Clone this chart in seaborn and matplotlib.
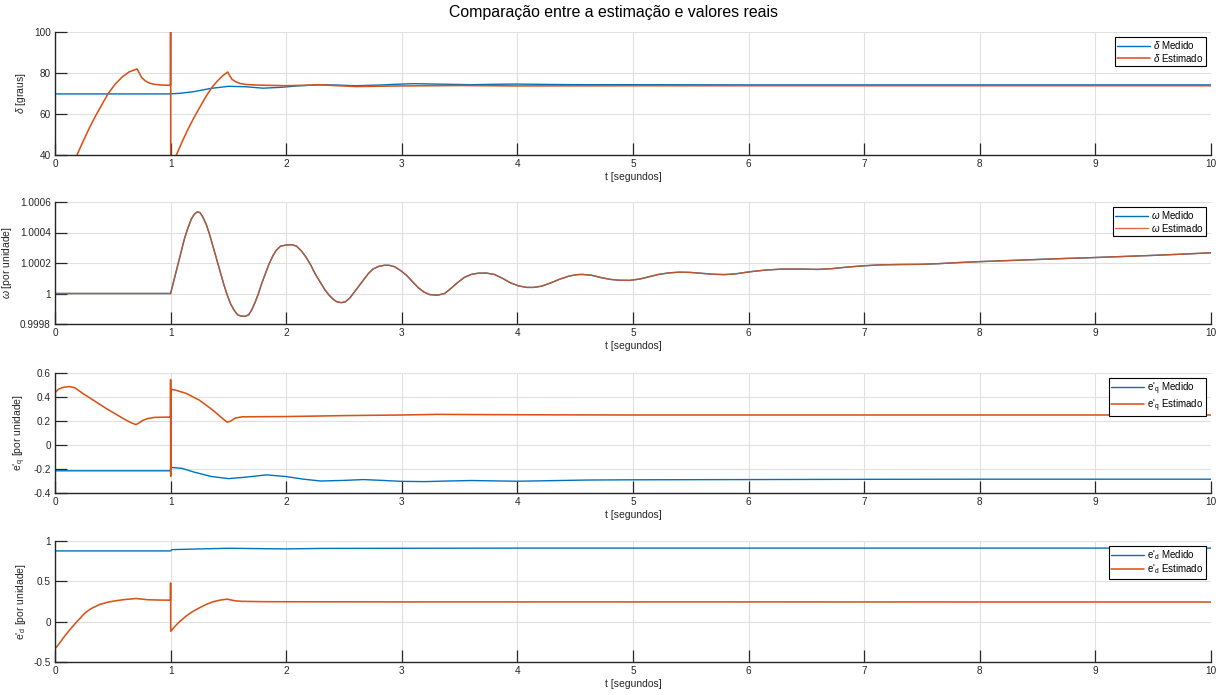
import matplotlib
matplotlib.use("Agg")
import matplotlib.pyplot as plt
import seaborn as sns
import pandas as pd

# ---------------- data ----------------
# delta [graus]
delta_med_t = [0, 1.0, 1.1, 1.2, 1.35, 1.5, 1.65, 1.8, 1.95, 2.1, 2.29, 2.45, 2.6, 2.8, 2.95, 3.1, 3.3, 3.6, 3.8, 4.0,
               4.3, 4.6, 5.0, 6.0, 7.0, 8.0, 10.0]
delta_med = [69.8, 69.8, 70.2, 70.9, 72.5, 73.5, 73.3, 72.6, 73.0, 73.7, 74.3, 74.1, 73.8, 74.1, 74.5, 74.8, 74.6, 74.3,
             74.5, 74.6, 74.4, 74.3, 74.3, 74.2, 74.2, 74.2, 74.2]
delta_est_t = [0, 0.002, 0.19, 0.25, 0.3, 0.35, 0.4, 0.46, 0.52, 0.58, 0.64, 0.71, 0.73, 0.75, 0.78, 0.82, 0.87, 0.93,
               0.999, 1.0, 1.001,
               1.05, 1.1, 1.15, 1.2, 1.25, 1.3, 1.355, 1.4, 1.45, 1.494, 1.51, 1.53, 1.56, 1.6, 1.65, 1.75, 2.0, 2.3,
               2.6, 3.0, 3.5, 4.0, 5.0, 7.0, 10.0]
delta_est = [79.0, 15.0, 40.0, 47.5, 53.5, 59.0, 64.0, 70.0, 74.5, 78.0, 80.5, 82.0, 79.8, 77.8, 76.2, 75.0, 74.4, 74.1,
             74.0, 115.0, 15.0,
             40.0, 46.5, 52.5, 58.0, 63.0, 68.0, 72.8, 75.8, 78.6, 80.5, 78.8, 77.0, 75.8, 74.9, 74.4, 74.1, 73.8, 74.2,
             73.4, 73.7, 73.9, 73.7, 73.8, 73.8, 73.8]

# omega [por unidade] (medido and estimado coincide)
omega_t = [0, 1.0, 1.03, 1.06, 1.09, 1.12, 1.15, 1.18, 1.205, 1.231, 1.255, 1.28, 1.31, 1.34, 1.37, 1.40, 1.43, 1.46,
           1.49, 1.52, 1.55, 1.58, 1.61, 1.644, 1.675, 1.70, 1.73, 1.76, 1.79, 1.82, 1.85, 1.88, 1.91, 1.95, 2.00,
           2.05, 2.09, 2.13, 2.17, 2.21, 2.25, 2.29, 2.33, 2.37, 2.41, 2.44, 2.476, 2.51, 2.55, 2.59, 2.63, 2.67, 2.71,
           2.75, 2.80, 2.85, 2.89, 2.94, 2.99, 3.04, 3.09, 3.14, 3.19, 3.24, 3.31, 3.37, 3.42, 3.48, 3.54, 3.60, 3.66,
           3.73, 3.80, 3.87, 3.94, 4.01, 4.08, 4.14, 4.21, 4.29, 4.37, 4.45, 4.52, 4.565, 4.64, 4.72, 4.80, 4.88, 4.97,
           5.06, 5.14, 5.22, 5.31, 5.40, 5.50, 5.60, 5.70, 5.79, 5.88, 5.96, 6.05, 6.15, 6.29, 6.45, 6.6, 6.72, 6.85,
           7.0, 7.15, 7.3, 7.48, 7.65, 7.82, 8.0, 8.25, 8.53, 8.75, 9.0, 9.25, 9.5, 9.75, 10.0]
omega = [1.0, 1.0, 1.00009, 1.00018, 1.00027, 1.00036, 1.00043, 1.00049, 1.00052, 1.000535, 1.00053, 1.00050, 1.00045,
         1.00038, 1.00030, 1.00022, 1.00014, 1.00006, 0.99999, 0.99993, 0.99989, 0.99986, 0.999852, 0.99985, 0.99986,
         0.99989, 0.99994, 1.00000, 1.00007, 1.00013, 1.00019, 1.00024, 1.00028, 1.00031, 1.000318,
         1.00032, 1.00031, 1.00028, 1.00024, 1.00019, 1.00013, 1.00008, 1.00003, 0.99999, 0.99996, 0.999945, 0.99994,
         0.999945, 0.99997, 1.00001, 1.00005, 1.00009, 1.00013, 1.00016, 1.000178, 1.000185, 1.000185, 1.000175,
         1.00015, 1.00012, 1.00008, 1.00004, 1.00001, 0.999993, 0.999989, 1.0, 1.00003, 1.00007, 1.000105, 1.000125,
         1.000133, 1.000134, 1.000125, 1.0001, 1.00007, 1.00005, 1.00004, 1.00004, 1.000048, 1.00007, 1.000095,
         1.000115, 1.000124, 1.000125, 1.00012, 1.000105, 1.000093, 1.000087, 1.000086, 1.000095, 1.00011, 1.000125,
         1.000135, 1.00014, 1.000138, 1.000132, 1.000126, 1.000124, 1.000128, 1.000137, 1.000146, 1.000154, 1.00016,
         1.00016, 1.000158, 1.000163, 1.000173, 1.000182, 1.000188, 1.00019, 1.000191, 1.000196, 1.000203, 1.000209,
         1.000216, 1.000224, 1.00023, 1.000236, 1.000243, 1.00025, 1.000258, 1.000267]

# e'q [por unidade]
eq_med_t = [0, 0.999, 1.0, 1.1, 1.2, 1.35, 1.5, 1.65, 1.83, 2.0, 2.15, 2.3, 2.5, 2.67, 2.85, 3.0, 3.2, 3.4, 3.6, 3.8,
            4.0, 4.3, 4.6, 5.0, 6.0, 7.0, 8.0, 10.0]
eq_med = [-0.215, -0.215, -0.186, -0.195, -0.225, -0.262, -0.28, -0.268, -0.249, -0.263, -0.285, -0.30, -0.295, -0.288,
          -0.296, -0.303, -0.305, -0.30, -0.296, -0.299, -0.302, -0.297, -0.292, -0.29, -0.288, -0.286, -0.285, -0.285]
eq_est_t = [0, 0.001, 0.002, 0.003, 0.03, 0.07, 0.12, 0.17, 0.24, 0.3, 0.386, 0.45, 0.53, 0.6, 0.66, 0.7, 0.72, 0.76,
            0.8, 0.86, 0.999, 1.0, 1.001, 1.002, 1.05, 1.135, 1.25, 1.366, 1.45, 1.49, 1.52, 1.56, 1.62, 2.0, 2.5, 3.0,
            3.3, 4.0, 5.0, 7.0, 10.0]
eq_est = [0.13, 0.56, 0.14, 0.44, 0.465, 0.48, 0.487, 0.478, 0.43, 0.393, 0.34, 0.30, 0.255, 0.215, 0.185, 0.17, 0.18,
          0.205, 0.22, 0.23, 0.233, 0.545, -0.26, 0.465, 0.455, 0.43, 0.373, 0.29, 0.22, 0.19, 0.20, 0.225, 0.235,
          0.237, 0.245, 0.25, 0.255, 0.252, 0.25, 0.25, 0.25]

# e'd [por unidade]
ed_med_t = [0, 1.0, 1.01, 1.2, 1.5, 1.8, 2.0, 2.3, 3.0, 4.0, 6.0, 10.0]
ed_med = [0.877, 0.877, 0.893, 0.90, 0.91, 0.905, 0.902, 0.908, 0.91, 0.912, 0.912, 0.912]
ed_est_t = [0, 0.001, 0.01, 0.04, 0.07, 0.1, 0.14, 0.18, 0.21, 0.24, 0.27, 0.31, 0.386, 0.46, 0.53, 0.6, 0.7, 0.75,
            0.8, 0.9, 0.999, 1.0, 1.001, 1.03, 1.07, 1.135, 1.19, 1.25, 1.31, 1.366, 1.43, 1.49, 1.52, 1.56, 1.62, 1.8,
            2.0, 3.0, 4.0, 6.0, 8.0, 10.0]
ed_est = [0.88, -0.33, -0.32, -0.265, -0.205, -0.15, -0.08, -0.015, 0.03, 0.08, 0.12, 0.16, 0.213, 0.243, 0.26, 0.274,
          0.287, 0.28, 0.272, 0.268, 0.266, 0.48, -0.12, -0.07, -0.01, 0.07, 0.125, 0.172, 0.215, 0.246, 0.268, 0.279,
          0.27, 0.258, 0.252, 0.248, 0.247, 0.245, 0.245, 0.245, 0.244, 0.244]

x_ticks = list(range(0, 11))
y1_ticks = [40, 60, 80, 100]
y1_labels = ["40", "60", "80", "100"]
y2_ticks = [0.9998, 1.0, 1.0002, 1.0004, 1.0006]
y2_labels = ["0.9998", "1", "1.0002", "1.0004", "1.0006"]
y3_ticks = [-0.4, -0.2, 0, 0.2, 0.4, 0.6]
y3_labels = ["-0.4", "-0.2", "0", "0.2", "0.4", "0.6"]
y4_ticks = [-0.5, 0, 0.5, 1]
y4_labels = ["-0.5", "0", "0.5", "1"]

title = "Comparação entre a estimação e valores reais"
xlabel = "t [segundos]"

# ---------------- style ----------------
sns.set_theme(style="whitegrid")
plt.rcParams.update({
    "font.family": ["Liberation Sans", "DejaVu Sans"],
    "mathtext.fontset": "custom",
    "mathtext.rm": "Liberation Sans",
    "mathtext.it": "Liberation Sans:italic",
    "mathtext.bf": "Liberation Sans:bold",
    "axes.edgecolor": "#262626",
    "axes.facecolor": "white",
    "grid.color": "#e0e0e0",
    "grid.linewidth": 0.8,
})

BLUE = "#0072BD"
ORANGE = "#D95319"
DARK = "#262626"

fig = plt.figure(figsize=(12.27, 6.95), dpi=100)
W, H = 1227, 695
left = 55 / W
width = 1156 / W


def make_ax(top_px, bottom_px):
    return fig.add_axes([left, 1 - bottom_px / H, width, (bottom_px - top_px) / H])


ax1 = make_ax(32, 155)
ax2 = make_ax(202, 324)
ax3 = make_ax(373, 493)
ax4 = make_ax(541, 662)


def draw(ax, t_med, v_med, t_est, v_est, lab_med, lab_est, ylim, yticks, ylabels, ylabel, same=False):
    dm = pd.DataFrame({"t": t_med, "v": v_med})
    de = pd.DataFrame({"t": t_est, "v": v_est})
    sns.lineplot(data=dm, x="t", y="v", ax=ax, color=BLUE, lw=1.0, sort=False, estimator=None, label=lab_med)
    sns.lineplot(data=de, x="t", y="v", ax=ax, color=ORANGE, lw=1.0 if same else 1.15, sort=False, estimator=None,
                 label=lab_est, alpha=0.85 if same else 1.0)
    ax.set_xlim(0, 10)
    ax.set_ylim(*ylim)
    ax.set_xticks(x_ticks)
    ax.set_xticklabels([str(v) for v in x_ticks])
    ax.set_yticks(yticks)
    ax.set_yticklabels(ylabels)
    ax.set_xlabel(xlabel, fontsize=7.5, color=DARK, labelpad=2)
    ax.set_ylabel(ylabel, fontsize=7.5, color=DARK, labelpad=4)
    ax.tick_params(axis="both", direction="in", length=8.5, width=0.9, colors=DARK, labelsize=7.2,
                   top=False, right=False, left=True, bottom=True, pad=3)
    for s in ["top", "right"]:
        ax.spines[s].set_visible(False)
    for s in ["left", "bottom"]:
        ax.spines[s].set_color(DARK)
        ax.spines[s].set_linewidth(1.0)
    ax.grid(True, color="#e0e0e0", lw=0.8)
    ax.set_axisbelow(True)
    leg = ax.legend(loc="upper right", fontsize=7, frameon=True, fancybox=False, framealpha=1,
                    edgecolor="black", handlelength=3.4, borderpad=0.25, labelspacing=0.05,
                    handletextpad=0.3, borderaxespad=0.5)
    leg.get_frame().set_linewidth(0.8)
    for txt in leg.get_texts():
        txt.set_color("black")


draw(ax1, delta_med_t, delta_med, delta_est_t, delta_est, r"$\delta$ Medido", r"$\delta$ Estimado",
     (40, 100), y1_ticks, y1_labels, r"$\delta$ [graus]")
draw(ax2, omega_t, omega, omega_t, omega, r"$\omega$ Medido", r"$\omega$ Estimado",
     (0.9998, 1.0006), y2_ticks, y2_labels, r"$\omega$ [por unidade]", same=True)
draw(ax3, eq_med_t, eq_med, eq_est_t, eq_est, r"e$'_{\rm q}$ Medido", r"e$'_{\rm q}$ Estimado",
     (-0.4, 0.6), y3_ticks, y3_labels, r"e$'_{\rm q}$ [por unidade]")
draw(ax4, ed_med_t, ed_med, ed_est_t, ed_est, r"e$'_{\rm d}$ Medido", r"e$'_{\rm d}$ Estimado",
     (-0.5, 1.0), y4_ticks, y4_labels, r"e$'_{\rm d}$ [por unidade]")

fig.text(0.5, 1 - 13 / H, title, ha="center", va="center", fontsize=11.4, color="black")

fig.savefig("out.png", dpi=100)
